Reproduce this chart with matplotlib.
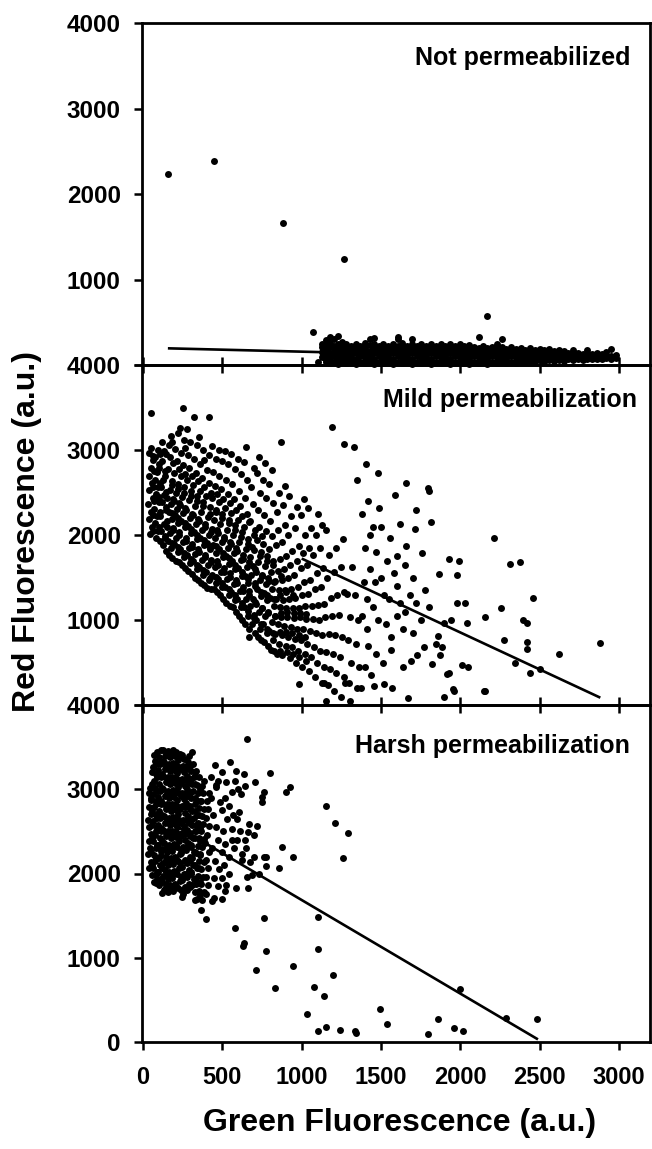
import matplotlib
matplotlib.use("Agg")
import matplotlib.pyplot as plt

plt.rcParams['font.family'] = ['Liberation Sans', 'DejaVu Sans']
plt.rcParams['font.weight'] = 'bold'

# ---------------- data ----------------
panel_titles = ["Not permeabilized", "Mild permeabilization", "Harsh permeabilization"]
x_ticks = [0, 500, 1000, 1500, 2000, 2500, 3000]
y_ticks = [0, 1000, 2000, 3000, 4000]
x_label = "Green Fluorescence (a.u.)"
y_label = "Red Fluorescence (a.u.)"

# Top panel: dense band (x column, red values)
top_band_cols = [
    (1130, [90, 150, 210, 250]), (1155, [30, 60, 120, 180, 240, 290]),
    (1180, [20, 85, 145, 205, 260, 330]), (1205, [40, 100, 160, 220, 300]),
    (1230, [15, 70, 130, 190, 245, 340]), (1255, [35, 95, 155, 215, 270]),
    (1280, [20, 80, 140, 200, 250]), (1310, [45, 105, 165, 225]),
    (1340, [15, 75, 135, 195, 245]), (1370, [40, 100, 160, 220]),
    (1400, [20, 80, 140, 200, 255]), (1430, [45, 105, 165, 230, 300]),
    (1455, [15, 75, 135, 195, 250, 315]), (1485, [40, 100, 160, 220]),
    (1515, [20, 80, 140, 200, 250]), (1545, [45, 105, 165, 225]),
    (1575, [15, 75, 135, 195, 245]), (1605, [40, 100, 160, 220, 300, 330]),
    (1635, [20, 80, 140, 200, 255]), (1665, [45, 105, 165, 225]),
    (1695, [15, 75, 135, 195, 245, 300]), (1725, [40, 100, 160, 220]),
    (1755, [20, 80, 140, 200, 250]), (1785, [45, 105, 165, 225]),
    (1815, [15, 75, 135, 195, 240]), (1845, [40, 100, 160, 220]),
    (1875, [20, 80, 140, 200, 245]), (1905, [45, 105, 165, 225]),
    (1935, [15, 75, 135, 195, 240]), (1965, [40, 100, 160, 220]),
    (1995, [20, 80, 140, 200, 240]), (2025, [45, 105, 165, 220]),
    (2055, [15, 75, 135, 195, 235]), (2085, [40, 100, 160, 215]),
    (2115, [20, 80, 140, 195, 330]), (2145, [45, 105, 165, 220]),
    (2170, [15, 75, 135, 195, 570]), (2200, [40, 100, 160, 215]),
    (2230, [20, 80, 140, 195, 240]), (2260, [45, 105, 165, 210, 300]),
    (2290, [20, 75, 135, 190]), (2320, [40, 100, 160, 205]),
    (2350, [25, 80, 140, 185]), (2380, [45, 100, 155, 200]),
    (2410, [30, 80, 135, 180]), (2440, [50, 100, 150, 195]),
    (2470, [35, 85, 135, 175]), (2500, [55, 105, 150, 190]),
    (2530, [40, 90, 135, 170]), (2560, [60, 105, 145, 185]),
    (2590, [45, 90, 130, 165]), (2620, [60, 100, 140, 175]),
    (2650, [50, 90, 130, 160]), (2680, [65, 105, 140]),
    (2710, [55, 95, 130, 170]), (2740, [70, 105, 140]),
    (2770, [60, 95, 130]), (2800, [70, 105, 140, 170]),
    (2830, [65, 100, 130]), (2860, [75, 110, 140]),
    (2890, [70, 100, 125]), (2920, [80, 110, 150]),
    (2950, [75, 105, 190]), (2980, [85, 115]),
]
top_outliers = [(157, 2234), (445, 2384), (880, 1663), (1268, 1245), (1069, 390), (1105, 39)]
top_fit_x = [157, 2975]
top_fit_y = [195, 65]

# Middle panel
mid_core = [
    (45, 2010), (59, 2100), (38, 2190), (52, 2270), (33, 2360), (63, 2440), (41, 2530), (55, 2610), (36, 2700), (48, 2790), (61, 2880), (40, 2960), (53, 3020), (52, 3440),
    (85, 1960), (97, 2050), (75, 2140), (91, 2220), (70, 2310), (102, 2390), (81, 2480), (95, 2560), (73, 2650), (88, 2740), (100, 2830), (78, 2920), (92, 3000),
    (125, 1880), (139, 1960), (115, 2050), (131, 2130), (110, 2220), (143, 2300), (121, 2390), (135, 2470), (112, 2560), (128, 2650), (141, 2750), (117, 2870), (133, 2990), (122, 3100),
    (165, 1760), (179, 1850), (155, 1930), (171, 2020), (150, 2100), (183, 2190), (161, 2270), (175, 2360), (153, 2440), (168, 2530), (181, 2640), (157, 2780), (173, 2920), (162, 3060), (178, 3160),
    (205, 1700), (219, 1800), (195, 1890), (211, 1970), (190, 2060), (223, 2140), (201, 2230), (215, 2310), (193, 2400), (208, 2490), (221, 2600), (197, 2730), (213, 2870), (202, 3010), (218, 3200),
    (245, 1650), (259, 1740), (235, 1830), (251, 1920), (230, 2000), (263, 2090), (241, 2170), (255, 2260), (233, 2350), (248, 2450), (261, 2560), (237, 2690), (253, 2820), (242, 2960), (258, 3120), (236, 3260), (250, 3490),
    (285, 1580), (299, 1670), (275, 1760), (291, 1850), (270, 1930), (303, 2020), (281, 2110), (295, 2200), (273, 2300), (288, 2410), (301, 2520), (277, 2650), (293, 2790), (282, 2940), (298, 3100), (276, 3250),
    (325, 1500), (339, 1600), (315, 1690), (331, 1780), (310, 1860), (343, 1950), (321, 2040), (335, 2130), (313, 2230), (328, 2340), (341, 2460), (317, 2590), (333, 2730), (322, 2890), (338, 3060), (320, 3390),
    (365, 1440), (379, 1530), (355, 1620), (371, 1710), (350, 1800), (383, 1880), (361, 1970), (375, 2060), (353, 2160), (368, 2270), (381, 2390), (357, 2520), (373, 2670), (362, 2830), (378, 3000), (356, 3150),
    (405, 1380), (419, 1470), (395, 1560), (411, 1650), (390, 1740), (423, 1830), (401, 1910), (415, 2000), (393, 2100), (408, 2210), (421, 2330), (397, 2460), (413, 2610), (402, 2770), (418, 2940), (419, 3390),
    (445, 1360), (459, 1440), (435, 1530), (451, 1620), (430, 1710), (463, 1790), (441, 1880), (455, 1970), (433, 2070), (448, 2180), (461, 2300), (437, 2430), (453, 2580), (442, 2740), (458, 2900), (436, 3050),
    (485, 1300), (499, 1390), (475, 1480), (491, 1570), (470, 1650), (503, 1740), (481, 1830), (495, 1920), (473, 2020), (488, 2130), (501, 2250), (477, 2390), (493, 2540), (482, 2700), (498, 2870), (476, 3000),
    (525, 1200), (539, 1300), (515, 1390), (531, 1480), (510, 1570), (543, 1660), (521, 1750), (535, 1850), (513, 1950), (528, 2060), (541, 2180), (517, 2320), (533, 2480), (522, 2650), (538, 2830), (516, 2990),
    (565, 1150), (579, 1240), (555, 1330), (571, 1420), (550, 1510), (583, 1600), (561, 1690), (575, 1790), (553, 1890), (568, 2000), (581, 2120), (557, 2260), (573, 2420), (562, 2600), (578, 2780), (556, 2950),
    (605, 1050), (619, 1150), (595, 1250), (611, 1340), (590, 1430), (623, 1520), (601, 1610), (615, 1710), (593, 1810), (608, 1920), (621, 2040), (597, 2180), (613, 2340), (602, 2520), (618, 2720), (596, 2900),
    (645, 950), (659, 1050), (635, 1150), (651, 1250), (630, 1340), (663, 1430), (641, 1520), (655, 1620), (633, 1720), (648, 1830), (661, 1950), (637, 2090), (653, 2250), (642, 2440), (658, 2650), (636, 2860), (650, 3030),
    (668, 800), (685, 950), (699, 1060), (675, 1160), (691, 1250), (670, 1340), (703, 1430), (681, 1530), (695, 1630), (673, 1740), (688, 1860), (701, 2000), (677, 2170), (693, 2360), (682, 2570), (698, 2790),
    (725, 800), (739, 900), (715, 1000), (731, 1100), (710, 1190), (743, 1280), (721, 1370), (735, 1470), (713, 1570), (728, 1680), (741, 1800), (717, 1940), (733, 2100), (722, 2290), (738, 2500), (716, 2730), (730, 2920),
    (765, 740), (779, 850), (755, 950), (771, 1050), (750, 1140), (783, 1230), (761, 1320), (775, 1420), (753, 1520), (768, 1630), (781, 1750), (757, 1890), (773, 2050), (762, 2230), (778, 2430), (756, 2650), (770, 2850),
    (805, 650), (819, 760), (795, 870), (811, 980), (790, 1080), (823, 1170), (801, 1260), (815, 1360), (793, 1460), (808, 1570), (821, 1690), (797, 1830), (813, 1990), (802, 2170), (818, 2380), (796, 2600), (810, 2760),
    (845, 600), (859, 720), (835, 840), (851, 950), (830, 1050), (863, 1150), (841, 1250), (855, 1350), (833, 1460), (848, 1580), (861, 1720), (837, 1880), (853, 2060), (842, 2270), (858, 2500), (870, 3090),
    (878, 585), (899, 700), (875, 820), (891, 930), (870, 1040), (903, 1140), (881, 1240), (895, 1350), (873, 1470), (888, 1600), (901, 1750), (877, 1920), (893, 2120), (882, 2350), (898, 2580),
    (925, 550), (939, 680), (915, 800), (931, 920), (910, 1030), (943, 1140), (921, 1250), (935, 1370), (913, 1500), (928, 1650), (941, 1810), (917, 2000), (933, 2220), (922, 2460),
    (965, 500), (979, 640), (955, 780), (971, 900), (950, 1020), (983, 1140), (961, 1260), (975, 1390), (953, 1530), (968, 1690), (981, 1870), (957, 2080), (973, 2330),
    (1005, 450), (1019, 600), (995, 760), (1011, 900), (990, 1030), (1023, 1160), (1001, 1300), (1015, 1450), (993, 1610), (1008, 1790), (1021, 2000), (997, 2240), (1013, 2420),
    (1045, 400), (1059, 560), (1035, 720), (1051, 870), (1030, 1010), (1063, 1160), (1041, 1310), (1055, 1470), (1033, 1650), (1048, 1850), (1061, 2080), (1037, 2320),
    (1085, 330), (1099, 500), (1075, 680), (1091, 850), (1070, 1010), (1103, 1180), (1081, 1360), (1095, 1550), (1073, 1760), (1088, 2000), (1101, 2250),
    (1125, 260), (1139, 450), (1115, 640), (1131, 820), (1110, 1000), (1143, 1190), (1121, 1390), (1135, 1610), (1113, 1850), (1128, 2120),
    (1165, 230), (1179, 420), (1155, 620), (1171, 830), (1150, 1040), (1183, 1260), (1161, 1500), (1175, 1760), (1153, 2060),
    (1205, 170), (1219, 380), (1195, 600), (1211, 820), (1190, 1050), (1223, 1300), (1201, 1560), (1215, 1850), (1192, 3273),
    (1250, 100), (1264, 330), (1240, 560), (1256, 800), (1235, 1060), (1268, 1330), (1246, 1620), (1260, 1950),
    (1300, 260), (1314, 500), (1290, 760), (1306, 1030), (1285, 1310), (1318, 1620), (1265, 3075),
    (1350, 200), (1364, 450), (1340, 720), (1356, 1000), (1335, 1290), (1331, 3036),
]
mid_fill = [
    (66, 2050), (61, 2235), (70, 2405), (64, 2570), (68, 2750), (62, 2925),
    (106, 1925), (101, 2090), (109, 2265), (103, 2445), (108, 2615), (100, 2790), (105, 2955),
    (146, 1810), (141, 1985), (149, 2160), (143, 2330), (147, 2505), (140, 2700), (148, 2950),
    (186, 1735), (181, 1905), (189, 2080), (183, 2255), (188, 2420), (180, 2590), (187, 2850), (184, 3100),
    (226, 1680), (221, 1860), (229, 2030), (223, 2205), (228, 2380), (220, 2540), (227, 2780),
    (266, 1610), (261, 1790), (269, 1960), (263, 2140), (268, 2320), (260, 2500), (267, 2720), (262, 3020),
    (306, 1540), (301, 1720), (309, 1900), (303, 2070), (308, 2250), (300, 2460), (307, 2700),
    (346, 1470), (341, 1650), (349, 1830), (343, 2000), (348, 2190), (340, 2400), (347, 2630),
    (386, 1410), (381, 1590), (389, 1770), (383, 1940), (388, 2130), (380, 2340), (387, 2560), (384, 2880),
    (426, 1370), (421, 1500), (429, 1680), (423, 1860), (428, 2040), (420, 2250), (427, 2500),
    (466, 1330), (461, 1510), (469, 1690), (463, 1870), (468, 2060), (460, 2270), (467, 2480),
    (506, 1250), (501, 1440), (509, 1610), (503, 1790), (508, 1980), (500, 2200), (507, 2420),
    (546, 1170), (541, 1370), (549, 1550), (543, 1730), (548, 1920), (540, 2140), (547, 2380),
    (586, 1100), (581, 1290), (589, 1470), (583, 1650), (588, 1850), (580, 2060), (587, 2300),
    (626, 1000), (621, 1200), (629, 1390), (623, 1570), (628, 1770), (620, 1980), (627, 2220),
    (666, 900), (661, 1110), (669, 1300), (663, 1480), (668, 1680), (660, 1900), (667, 2150),
    (706, 850), (701, 1020), (709, 1210), (703, 1400), (708, 1600), (700, 1820), (707, 2060),
    (746, 770), (741, 950), (749, 1140), (743, 1330), (748, 1530), (740, 1750), (747, 1990),
    (786, 700), (781, 900), (789, 1100), (783, 1290), (788, 1490), (780, 1700),
    (826, 640), (821, 850), (829, 1050), (823, 1250), (828, 1450), (820, 1650),
    (866, 640), (861, 860), (869, 1080), (863, 1300), (868, 1520),
    (906, 620), (901, 860), (909, 1100), (903, 1330),
    (946, 600), (941, 850), (949, 1080), (943, 1300),
    (986, 560), (981, 820), (989, 1080),
    (1026, 520), (1021, 800), (1029, 1070),
]
mid_sparse = [
    (1404, 2838), (1480, 2731), (1349, 2648), (1658, 2609), (1795, 2549), (1800, 2520), (1585, 2470),
    (1485, 2312), (1721, 2292), (1619, 2126), (1815, 2154), (1716, 2075), (1559, 1968), (2214, 1960),
    (1658, 1870), (1760, 1790), (1928, 1719), (1991, 1700), (2376, 1680), (2313, 1660), (1868, 1545),
    (1978, 1534), (2455, 1257), (1978, 1198), (2030, 1198), (2256, 1146), (2154, 1040), (2394, 1000),
    (2418, 960), (2044, 960), (1939, 1000), (2274, 763), (2418, 743), (2877, 731), (2620, 605),
    (2418, 664), (2346, 498), (2503, 427), (2012, 466), (2049, 447), (1918, 368), (1960, 170),
    (2156, 170), (1873, 585), (1821, 486), (1724, 593), (1690, 518), (1637, 447), (1768, 684),
    (1847, 723), (1886, 684), (1860, 810), (1894, 968), (982, 244), (1140, 264), (1271, 264),
    (1376, 205), (1454, 224), (1520, 244), (1572, 205), (1153, 47), (1305, 47), (1671, 87),
    (1899, 98), (1952, 185), (2148, 165), (1926, 382), (2436, 382),
    (1400, 1850), (1430, 1600), (1460, 1450), (1500, 1500), (1520, 1300), (1550, 1250), (1580, 1550),
    (1600, 1400), (1620, 1200), (1450, 1150), (1480, 1000), (1410, 900), (1530, 950), (1560, 800),
    (1600, 1050), (1650, 1100), (1680, 1300), (1700, 1500), (1720, 1200), (1750, 1000), (1780, 1350),
    (1800, 1150), (1640, 900), (1700, 850), (1420, 700), (1470, 600), (1510, 500), (1560, 650),
    (1400, 450), (1440, 350), (1390, 1450), (1410, 1250), (1380, 1050), (1430, 2000), (1470, 1800),
    (1540, 1700), (1600, 1750), (1650, 1650), (1500, 2100), (1380, 2250), (1420, 2400), (1450, 2100),
]
mid_fit_x = [1000, 2882]
mid_fit_y = [1723, 86]

# Bottom panel
bot_core = [
    (38, 2060), (50, 2140), (33, 2230), (47, 2300), (36, 2390), (52, 2470), (40, 2550), (31, 2630), (48, 2710), (37, 2790), (51, 2870), (35, 2950), (45, 3010),
    (70, 1900), (82, 1985), (64, 2060), (77, 2145), (68, 2220), (84, 2300), (62, 2385), (75, 2460), (86, 2540), (66, 2625), (79, 2700), (71, 2785), (85, 2860), (63, 2945), (76, 3020), (69, 3100), (83, 3180), (65, 3260), (78, 3340), (72, 3410),
    (100, 1860), (112, 1940), (95, 2020), (107, 2100), (98, 2180), (114, 2265), (92, 2340), (105, 2420), (116, 2500), (96, 2580), (109, 2660), (101, 2745), (115, 2820), (93, 2905), (106, 2980), (99, 3060), (113, 3140), (95, 3225), (108, 3300), (102, 3380), (111, 3460),
    (130, 1800), (142, 1880), (125, 1965), (137, 2040), (128, 2125), (144, 2200), (122, 2285), (135, 2360), (146, 2445), (126, 2520), (139, 2605), (131, 2680), (145, 2765), (123, 2840), (136, 2925), (129, 3000), (143, 3085), (125, 3160), (138, 3245), (132, 3320), (141, 3400), (127, 3470),
    (160, 1780), (172, 1860), (155, 1940), (167, 2020), (158, 2100), (174, 2180), (152, 2260), (165, 2340), (176, 2420), (156, 2500), (169, 2580), (161, 2660), (175, 2740), (153, 2820), (166, 2900), (159, 2980), (173, 3060), (155, 3140), (168, 3220), (162, 3300), (171, 3380), (157, 3450),
    (190, 1790), (202, 1870), (185, 1950), (197, 2030), (188, 2110), (204, 2190), (182, 2270), (195, 2350), (206, 2430), (186, 2510), (199, 2590), (191, 2670), (205, 2750), (183, 2830), (196, 2910), (189, 2990), (203, 3070), (185, 3150), (198, 3230), (192, 3310), (201, 3390), (187, 3460),
    (220, 1830), (232, 1910), (215, 1990), (227, 2070), (218, 2150), (234, 2230), (212, 2310), (225, 2390), (236, 2470), (216, 2550), (229, 2630), (221, 2710), (235, 2790), (213, 2870), (226, 2950), (219, 3030), (233, 3110), (215, 3190), (228, 3270), (222, 3350), (231, 3420),
    (250, 1760), (262, 1840), (245, 1920), (257, 2000), (248, 2080), (264, 2160), (242, 2240), (255, 2320), (266, 2400), (246, 2480), (259, 2560), (251, 2640), (265, 2720), (243, 2800), (256, 2880), (249, 2960), (263, 3040), (245, 3120), (258, 3200), (252, 3280), (261, 3360), (247, 3410),
    (280, 1800), (292, 1880), (275, 1960), (287, 2040), (278, 2120), (294, 2200), (272, 2280), (285, 2360), (296, 2440), (276, 2520), (289, 2600), (281, 2680), (295, 2760), (273, 2840), (286, 2920), (279, 3000), (293, 3080), (275, 3160), (288, 3240), (282, 3320), (291, 3390),
    (310, 1860), (322, 1940), (305, 2020), (317, 2100), (308, 2180), (324, 2260), (302, 2340), (315, 2420), (326, 2500), (306, 2580), (319, 2660), (311, 2740), (325, 2820), (303, 2900), (316, 2980), (309, 3060), (323, 3140), (305, 3220), (318, 3300), (312, 3440),
    (340, 1700), (352, 1790), (335, 1880), (347, 1970), (338, 2060), (354, 2150), (332, 2240), (345, 2330), (356, 2420), (336, 2510), (349, 2600), (341, 2690), (355, 2780), (333, 2870), (346, 2960), (339, 3050), (353, 3140), (335, 3220),
    (367, 1567), (398, 1461), (370, 1680), (382, 1780), (365, 1870), (377, 1960), (368, 2050), (384, 2140), (362, 2230), (375, 2320), (386, 2410), (366, 2500), (379, 2590), (371, 2680), (385, 2770), (363, 2860), (376, 2950), (369, 3040), (383, 3100),
    (400, 1760), (412, 1860), (395, 1960), (407, 2060), (398, 2160), (414, 2260), (392, 2360), (405, 2460), (416, 2560), (396, 2660), (409, 2760), (401, 2860), (415, 2950),
]
bot_fill = [
    (55, 1980), (58, 2100), (53, 2260), (57, 2420), (54, 2580), (59, 2740), (52, 2900), (56, 3060), (58, 3200),
    (86, 1940), (89, 2020), (84, 2180), (88, 2340), (85, 2500), (90, 2660), (83, 2820), (87, 2980), (89, 3140), (84, 3300), (88, 3440),
    (117, 1900), (120, 2060), (115, 2220), (119, 2380), (116, 2540), (121, 2700), (114, 2860), (118, 3020), (120, 3180), (115, 3340),
    (148, 1840), (151, 2000), (146, 2160), (150, 2320), (147, 2480), (152, 2640), (145, 2800), (149, 2960), (151, 3120), (146, 3280), (150, 3430),
    (178, 1820), (181, 1980), (176, 2140), (180, 2300), (177, 2460), (182, 2620), (175, 2780), (179, 2940), (181, 3100), (176, 3260), (180, 3420),
    (208, 1850), (211, 2010), (206, 2170), (210, 2330), (207, 2490), (212, 2650), (205, 2810), (209, 2970), (211, 3130), (206, 3290), (210, 3440),
    (238, 1800), (241, 1960), (236, 2120), (240, 2280), (237, 2440), (242, 2600), (235, 2760), (239, 2920), (241, 3080), (236, 3240), (240, 3380),
    (268, 1830), (271, 1990), (266, 2150), (270, 2310), (267, 2470), (272, 2630), (265, 2790), (269, 2950), (271, 3110), (266, 3270),
    (298, 1840), (301, 2000), (296, 2160), (300, 2320), (297, 2480), (302, 2640), (295, 2800), (299, 2960), (301, 3120), (296, 3280),
    (328, 1780), (331, 1940), (326, 2100), (330, 2260), (327, 2420), (332, 2580), (325, 2740), (329, 2900), (331, 3060), (326, 3200),
    (358, 1740), (361, 1900), (356, 2060), (360, 2220), (357, 2380), (362, 2540), (355, 2700), (359, 2860), (361, 3000),
]
bot_mid = [
    (451, 3287), (458, 3024), (485, 2854), (524, 3083), (550, 3327), (584, 3220), (563, 2972), (639, 3181),
    (642, 3043), (616, 2945), (603, 2728), (595, 2650), (563, 2531), (590, 2402), (621, 2236), (624, 2157),
    (676, 2138), (660, 1823), (584, 1831), (524, 1862), (655, 1961), (689, 1980), (773, 2087), (760, 2197),
    (778, 2197), (668, 2591), (661, 2492), (700, 2453), (720, 2559), (752, 2846), (752, 2905), (760, 2965),
    (707, 3083), (655, 3594), (799, 3189), (925, 3031), (904, 2972), (1153, 2807), (1210, 2602), (1289, 2480),
    (878, 2315), (943, 2197), (1258, 2189), (859, 2067),
    (430, 2900), (440, 2700), (460, 2550), (470, 2400), (435, 2300), (455, 2150), (480, 2050), (445, 1950),
    (470, 1850), (500, 1950), (510, 2100), (495, 2250), (520, 2350), (505, 2500), (530, 2650), (500, 2750),
    (520, 2900), (540, 2200), (545, 2000), (560, 2400), (575, 2300), (500, 1700), (445, 1705), (437, 1673),
    (327, 1685), (249, 1724), (123, 1764), (79, 1882), (470, 3100), (500, 3200), (430, 3150), (540, 2800),
    (570, 2700), (520, 1790), (600, 3000), (580, 3100), (610, 2500), (640, 2400), (650, 2300), (700, 2200),
    (730, 2000), (460, 3050),
]
bot_outliers = [
    (582, 1350), (760, 1469), (634, 1173), (629, 1134), (773, 1083), (713, 850), (831, 642), (1106, 1488),
    (1100, 1106), (943, 906), (1197, 799), (1079, 650), (1140, 551), (1035, 335), (1100, 130), (1153, 177),
    (1239, 138), (1336, 130), (1344, 110), (1493, 394), (1538, 217), (1795, 98), (1860, 268), (1957, 169),
    (2017, 130), (1999, 634), (2287, 287), (2484, 276),
]
bot_fit_x = [50, 2489]
bot_fit_y = [2741, 31]

# ---------------- build ----------------
top_pts = [(x, y) for x, ys in top_band_cols for y in ys] + top_outliers
panels = [
    (top_pts, top_fit_x, top_fit_y),
    (mid_core + mid_fill + mid_sparse, mid_fit_x, mid_fit_y),
    (bot_core + bot_fill + bot_mid + bot_outliers, bot_fit_x, bot_fit_y),
]

fig = plt.figure(figsize=(6.52, 11.49), dpi=100)
W = 652.0
H = 1149.0
left = 141.7 / W
width = (650 - 141.7) / W
bounds = [(23, 365), (365, 705), (705, 1042)]
title_pos = [(0.961, 0.877), (0.974, 0.876), (0.961, 0.858)]

for i, ((pts, fx, fy), (t, b)) in enumerate(zip(panels, bounds)):
    ax = fig.add_axes([left, 1 - b / H, width, (b - t) / H])
    xs = [p[0] for p in pts]
    ys = [p[1] for p in pts]
    ax.plot(fx, fy, color='black', lw=1.9, solid_capstyle='butt', zorder=2)
    ax.scatter(xs, ys, s=25, color='black', linewidths=0, zorder=3, clip_on=False)
    ax.set_xlim(-8, 3195)
    ax.set_ylim(0, 4000)
    ax.set_yticks(y_ticks)
    if i < 2:
        ax.set_yticklabels([''] + [str(v) for v in y_ticks[1:]])
    else:
        ax.set_yticklabels([str(v) for v in y_ticks])
    ax.set_xticks(x_ticks)
    if i < 2:
        ax.set_xticklabels([])
        ax.tick_params(axis='x', direction='inout', length=11, width=1.8)
    else:
        ax.set_xticklabels([str(v) for v in x_ticks])
        ax.tick_params(axis='x', direction='out', length=6, width=1.8, pad=11, labelsize=17)
    ax.tick_params(axis='y', direction='out', length=6, width=1.8, pad=9, labelsize=17.5)
    for lab in ax.get_xticklabels() + ax.get_yticklabels():
        lab.set_fontweight('bold')
    for sp in ax.spines.values():
        sp.set_linewidth(2.0)
    ax.text(title_pos[i][0], title_pos[i][1], panel_titles[i], transform=ax.transAxes,
            ha='right', va='baseline', fontsize=18, fontweight='bold')
    ax.set_facecolor('none')

fig.text(27 / W, 1 - 532 / H, y_label, rotation=90, ha='center', va='center',
         fontsize=23, fontweight='bold')
fig.text(400 / W, 1 - 1131 / H, x_label, ha='center', va='baseline',
         fontsize=23, fontweight='bold')

fig.savefig('out.png', dpi=100, facecolor='white')
